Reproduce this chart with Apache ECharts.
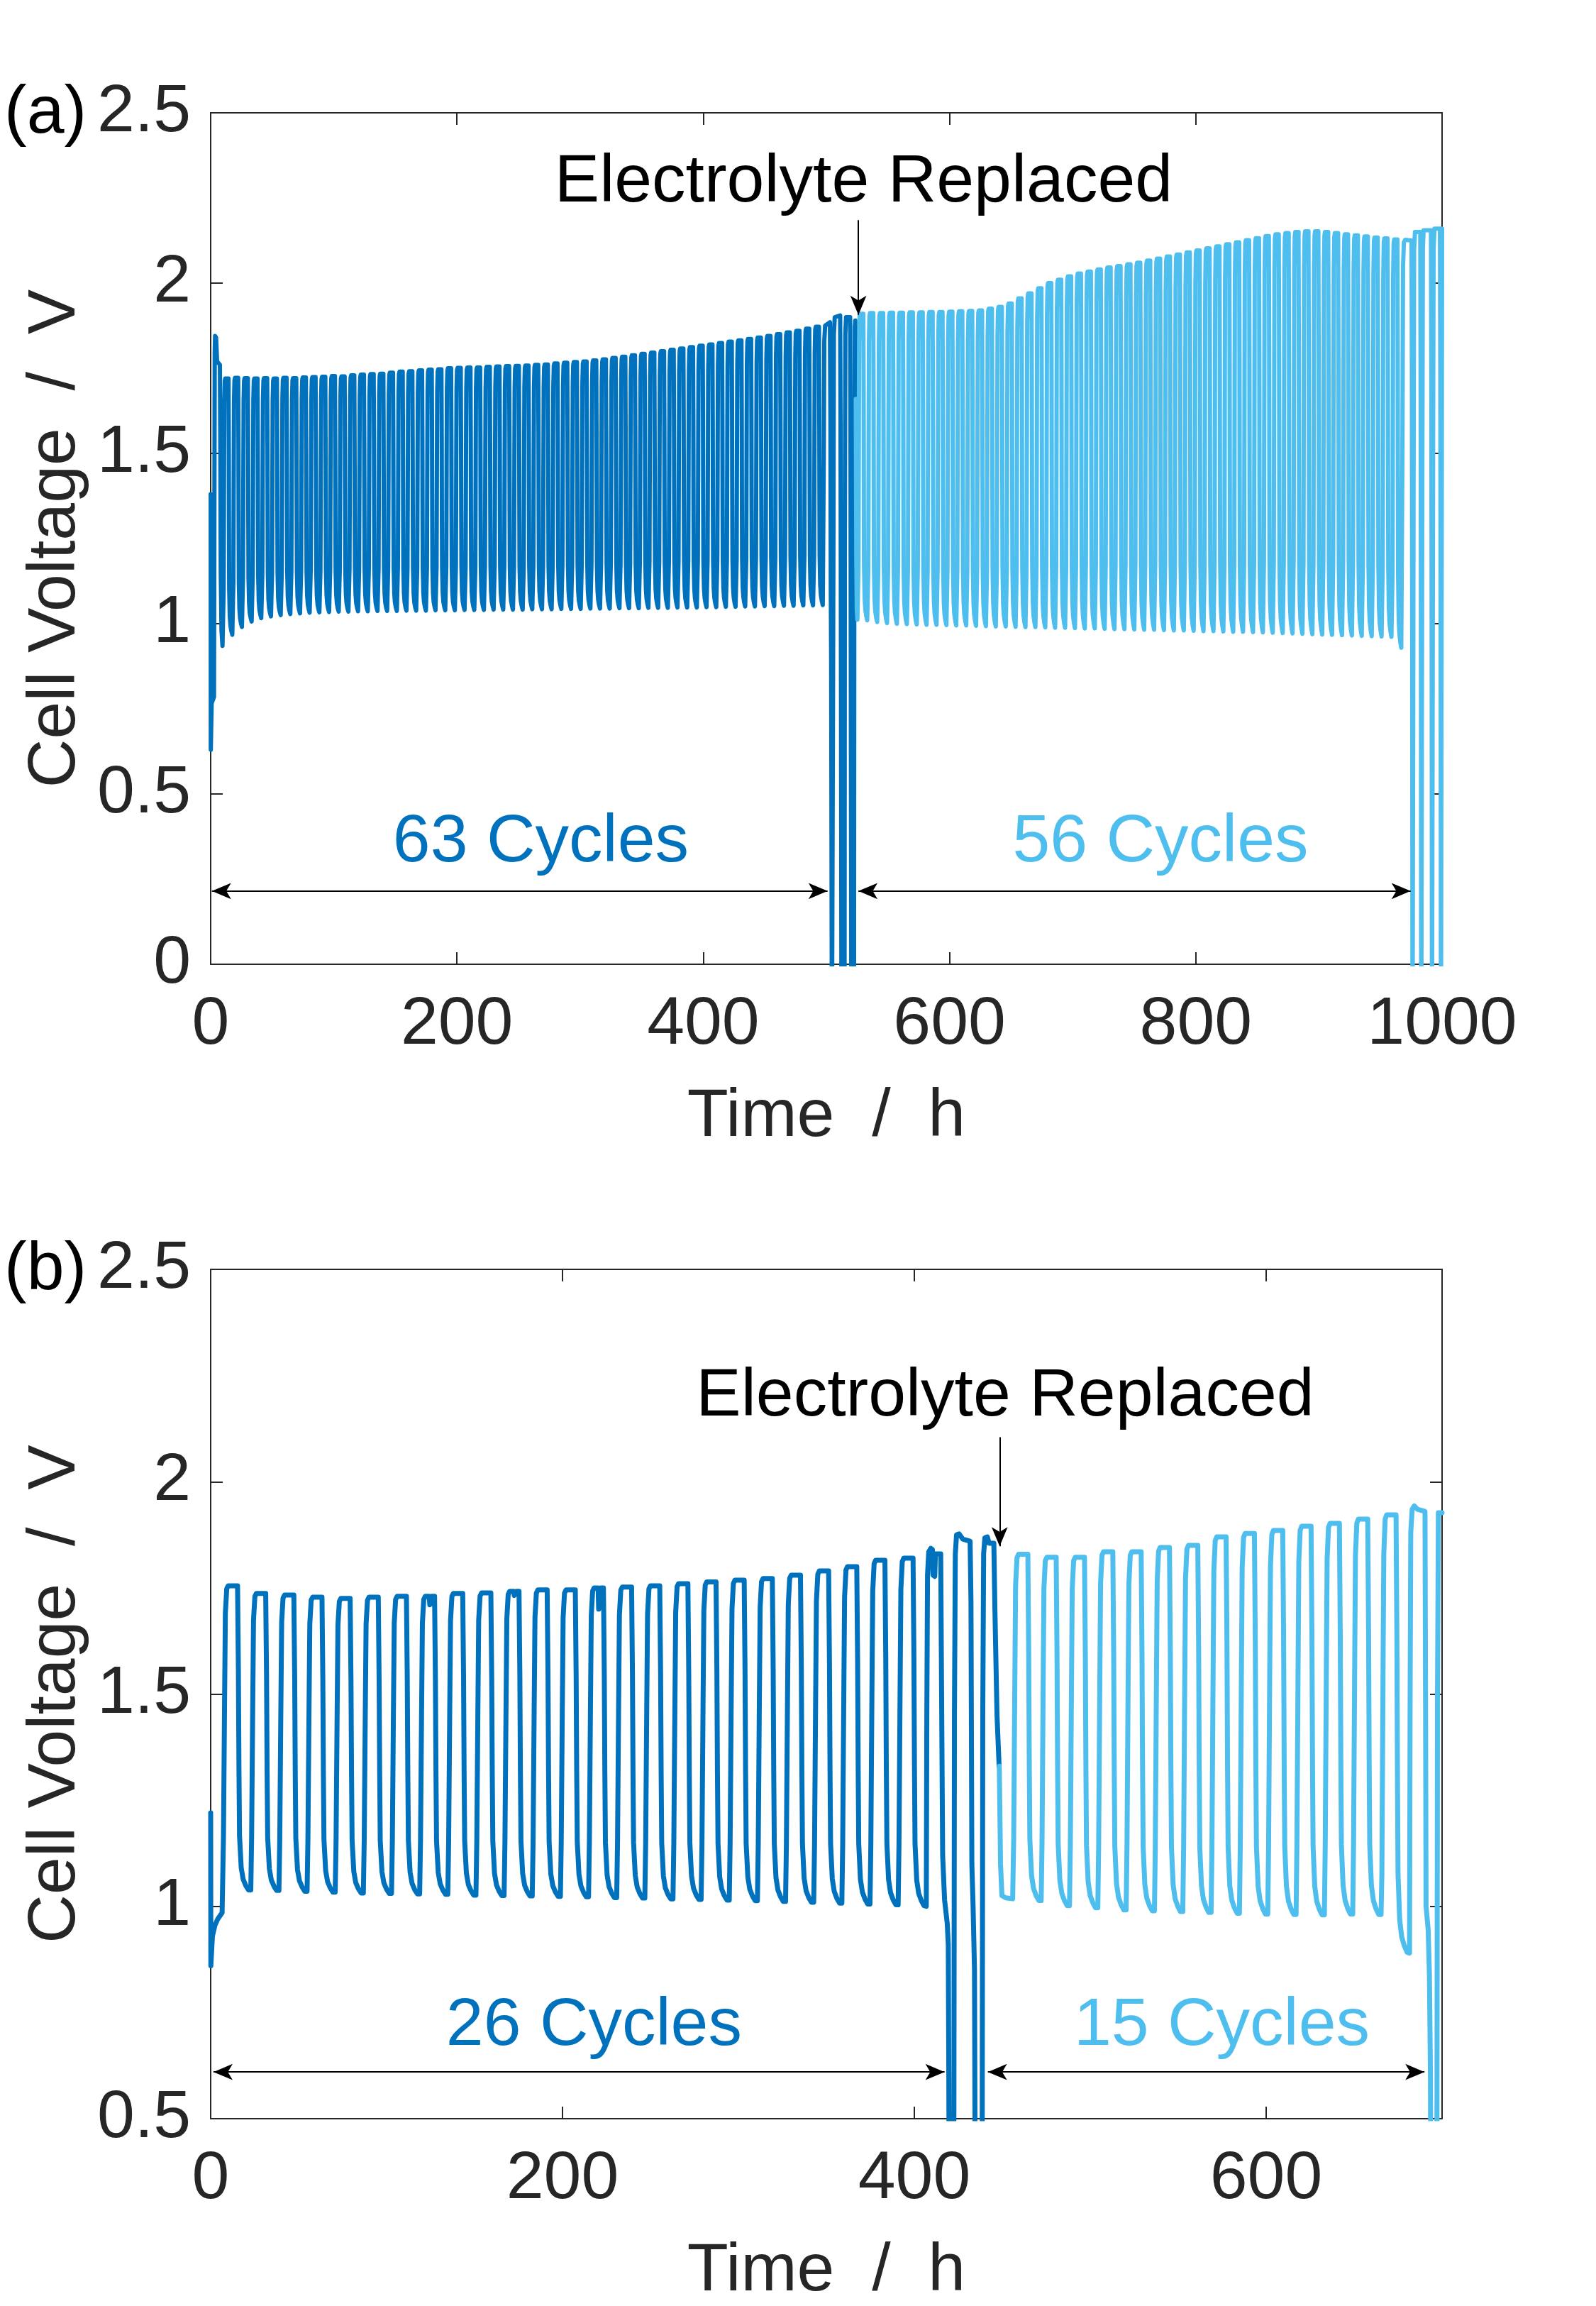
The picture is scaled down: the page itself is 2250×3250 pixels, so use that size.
<!DOCTYPE html>
<html>
<head>
<meta charset="utf-8">
<title>Cell voltage vs time</title>
<script src="https://cdn.jsdelivr.net/npm/echarts@6.0.0/dist/echarts.min.js"></script>
<style>
  html, body { margin: 0; padding: 0; background: #fff; }
  #chart { width: 2250px; height: 3250px; }
</style>
</head>
<body>
<div id="chart"></div>
<script>
// ---- values (time in h, voltage in V) ----

// axes
var xMaxA = 1000, xMaxB = 700;
var yMinA = 0, yMinB = 0.5, yMax = 2.5;

// (a) first electrolyte: start-up, regular cycles (rise time / plateau / bottom), replacement cycles
var startDarkA = [[0, 1.38], [0.1, 0.63], [0.8, 0.766], [2.7, 0.785], [3.0, 1.3], [3.3, 1.8], [3.6, 1.845],
    [4.4, 1.84], [5.2, 1.77], [5.8, 1.766], [7.5, 1.76], [7.8, 1.55], [8.2, 1.15], [8.8, 0.98], [9.6, 0.935], [10.3, 0.933]];
var riseDarkA = [10.3, 18.2, 26.0, 33.9, 41.7, 49.6, 57.5, 65.3, 73.2, 81.0,
    88.9, 96.8, 104.6, 112.5, 120.3, 128.2, 136.1, 143.9, 151.8, 159.6,
    167.5, 175.4, 183.2, 191.1, 198.9, 206.8, 214.7, 222.5, 230.4, 238.2,
    246.1, 254.0, 261.8, 269.7, 277.5, 285.4, 293.3, 301.1, 309.0, 316.8,
    324.7, 332.6, 340.4, 348.3, 356.1, 364.0, 371.9, 379.7, 387.6, 395.4,
    403.3, 411.2, 419.0, 426.9, 434.7, 442.6, 450.5, 458.3, 466.2, 474.0,
    481.9, 489.8];
var topDarkA = [1.720, 1.722, 1.721, 1.720, 1.721, 1.720, 1.722, 1.721, 1.723, 1.724,
    1.725, 1.727, 1.726, 1.729, 1.731, 1.733, 1.734, 1.737, 1.740, 1.741,
    1.744, 1.746, 1.747, 1.750, 1.751, 1.752, 1.752, 1.754, 1.755, 1.756,
    1.757, 1.758, 1.760, 1.761, 1.764, 1.766, 1.768, 1.770, 1.773, 1.776,
    1.780, 1.784, 1.788, 1.792, 1.796, 1.800, 1.804, 1.808, 1.812, 1.816,
    1.820, 1.824, 1.828, 1.832, 1.836, 1.840, 1.845, 1.850, 1.855, 1.860,
    1.866, 1.872];
var botDarkA = [0.966, 0.989, 1.005, 1.015, 1.020, 1.024, 1.027, 1.029, 1.031, 1.032,
    1.033, 1.034, 1.034, 1.035, 1.035, 1.036, 1.036, 1.036, 1.037, 1.037,
    1.037, 1.038, 1.038, 1.038, 1.039, 1.039, 1.039, 1.040, 1.040, 1.040,
    1.040, 1.041, 1.041, 1.041, 1.042, 1.042, 1.042, 1.043, 1.043, 1.043,
    1.044, 1.044, 1.044, 1.045, 1.045, 1.045, 1.046, 1.046, 1.046, 1.047,
    1.047, 1.048, 1.048, 1.049, 1.049, 1.050, 1.050, 1.051, 1.051, 1.052,
    1.052, 1.053];
var endDarkA = [[497.6, 1.053], [497.9, 1.5], [498.3, 1.83], [499.0, 1.875], [502.9, 1.885], [503.3, 1.6],
    [503.6, 1.1], [503.9, 0.9], [504.2, 0.3], [504.5, -0.3], [505.4, -0.3], [505.7, 1.2], [506.1, 1.85],
    [506.8, 1.9], [511.2, 1.905], [511.5, 1.6], [511.9, 0.8], [512.3, -0.3], [514.7, -0.3], [515.0, 1.2],
    [515.4, 1.85], [516.0, 1.9], [519.3, 1.9], [519.6, 1.5], [520.0, 0.5], [520.3, -0.3], [522.4, -0.3],
    [522.7, 1.3], [523.1, 1.87], [523.5, 1.89], [523.9, 1.66]];

// (a) fresh electrolyte
var startLightA = [[523.9, 1.66], [524.3, 1.2], [524.7, 1.04], [525.2, 1.012], [525.8, 1.008]];
var riseLightA = [525.8, 533.8, 541.9, 549.9, 557.9, 566.0, 574.0, 582.0, 590.1, 598.1,
    606.1, 614.2, 622.2, 630.2, 638.2, 646.3, 654.3, 662.3, 670.4, 678.4,
    686.4, 694.5, 702.5, 710.5, 718.6, 726.6, 734.6, 742.7, 750.7, 758.7,
    766.8, 774.8, 782.8, 790.9, 798.9, 806.9, 815.0, 823.0, 831.0, 839.0,
    847.1, 855.1, 863.1, 871.2, 879.2, 887.2, 895.3, 903.3, 911.3, 919.4,
    927.4, 935.4, 943.5, 951.5, 959.5];
var topLightA = [1.910, 1.912, 1.912, 1.913, 1.913, 1.914, 1.914, 1.915, 1.915, 1.916,
    1.917, 1.918, 1.920, 1.925, 1.930, 1.940, 1.955, 1.970, 1.985, 2.000,
    2.010, 2.020, 2.028, 2.034, 2.040, 2.046, 2.050, 2.055, 2.060, 2.066,
    2.072, 2.078, 2.084, 2.090, 2.096, 2.102, 2.108, 2.114, 2.120, 2.126,
    2.132, 2.138, 2.143, 2.147, 2.150, 2.152, 2.152, 2.150, 2.147, 2.143,
    2.140, 2.137, 2.134, 2.131, 2.128];
var botLightA = [1.008, 1.003, 1.000, 0.998, 0.997, 0.996, 0.995, 0.995, 0.994, 0.993,
    0.993, 0.992, 0.991, 0.990, 0.990, 0.989, 0.988, 0.988, 0.987, 0.986,
    0.986, 0.985, 0.984, 0.984, 0.983, 0.982, 0.982, 0.981, 0.980, 0.980,
    0.979, 0.978, 0.978, 0.977, 0.976, 0.976, 0.975, 0.974, 0.974, 0.973,
    0.972, 0.971, 0.970, 0.969, 0.968, 0.967, 0.966, 0.965, 0.964, 0.963,
    0.962, 0.961, 0.960, 0.959, 0.927];
var endLightA = [[967.5, 0.927], [967.8, 1.5], [968.3, 2.05], [969.0, 2.12], [970.0, 2.127], [975.2, 2.125],
    [975.5, 1.7], [975.8, 0.8], [976.0, -0.3], [976.6, -0.3], [976.9, 1.5], [977.3, 2.1], [978.0, 2.15],
    [982.3, 2.15], [982.6, 1.7], [982.9, 0.8], [983.1, -0.3], [983.7, -0.3], [984.0, 1.5], [984.4, 2.1],
    [985.0, 2.155], [991.0, 2.155], [991.3, 1.7], [991.6, 0.8], [991.8, -0.3], [992.4, -0.3], [992.7, 1.5],
    [993.1, 2.1], [993.8, 2.16], [998.3, 2.16], [998.6, 1.7], [998.9, 0.8], [999.1, -0.3], [999.6, -0.3],
    [999.8, 1.5], [1000, 2.16]];

// (b) first electrolyte
var startDarkB = [[0, 1.22], [0.1, 0.86], [1.0, 0.93], [2.4, 0.955], [4.0, 0.97], [6.5, 0.985]];
var riseDarkB = [6.8, 22.8, 38.8, 54.8, 70.8, 86.8, 102.8, 118.8, 134.8, 150.8,
    166.8, 182.8, 198.8, 214.8, 230.8, 246.8, 262.8, 278.8, 294.8, 310.8,
    326.8, 342.8, 358.8, 374.8, 390.8];
var topDarkB = [1.755, 1.737, 1.733, 1.728, 1.725, 1.728, 1.730, 1.730, 1.737, 1.738,
    1.742, 1.745, 1.745, 1.750, 1.752, 1.755, 1.760, 1.764, 1.768, 1.772,
    1.780, 1.790, 1.800, 1.815, 1.820];
var botDarkB = [1.037, 1.036, 1.034, 1.032, 1.030, 1.029, 1.028, 1.027, 1.025, 1.024,
    1.023, 1.022, 1.021, 1.019, 1.018, 1.016, 1.015, 1.013, 1.012, 1.010,
    1.008, 1.006, 1.004, 1.002, 1.000];
var notchDarkB = [0, 0, 0, 0, 0, 0, 0, 0.02, 0, 0,
    0.01, 0, 0, 0.05, 0, 0, 0, 0, 0, 0,
    0, 0, 0, 0, 0];
var endDarkB = [[406.8, 1.0], [407.1, 1.45], [407.5, 1.78], [408.2, 1.835], [409.4, 1.843], [410.3, 1.84],
    [410.6, 1.78], [411.6, 1.777], [412.0, 1.83], [415.0, 1.83], [415.5, 1.5], [416.1, 1.12], [417.2, 1.015],
    [418.7, 0.96], [419.3, 0.91], [419.6, 0.6], [419.9, 0.2], [422.4, 0.2], [422.8, 1.45], [423.3, 1.83],
    [424.0, 1.875], [425.5, 1.877], [427.5, 1.865], [431.7, 1.86], [432.2, 1.72], [432.7, 1.1], [433.4, 1.0],
    [434.2, 0.85], [434.7, 0.2], [438.5, 0.2], [438.9, 1.45], [439.4, 1.83], [440.1, 1.868], [441.5, 1.87],
    [442.5, 1.855], [445.2, 1.855], [445.8, 1.7], [447.0, 1.45], [448.2, 1.33]];

// (b) fresh electrolyte
var startLightB = [[448.3, 1.33], [449.0, 1.1], [449.8, 1.025], [452.0, 1.02], [455.9, 1.018]];
var riseLightB = [456.0, 472.1, 488.2, 504.3, 520.4, 536.5, 552.6, 568.7, 584.8, 600.9,
    617.0, 633.1, 649.2, 665.3];
var topLightB = [1.829, 1.822, 1.822, 1.835, 1.835, 1.845, 1.850, 1.870, 1.878, 1.885,
    1.895, 1.902, 1.912, 1.922];
var botLightB = [1.012, 1.000, 0.995, 0.990, 0.988, 0.986, 0.984, 0.982, 0.980, 0.979,
    0.978, 0.980, 0.979, 0.890];
var endLightB = [[681.5, 0.89], [681.8, 1.45], [682.2, 1.88], [683.0, 1.935], [684.2, 1.943], [686.0, 1.935],
    [690.3, 1.93], [690.6, 1.5], [690.9, 1.0], [692.1, 0.945], [692.8, 0.84], [693.4, 0.6], [693.6, 0.2],
    [697.0, 0.2], [697.4, 1.5], [697.9, 1.927], [700, 1.927]];

// shape of one cycle: [fraction of period, fraction from bottom to plateau]
var cycleShape = [[0, 0], [0.03, 0.18], [0.068, 0.61], [0.097, 0.91], [0.146, 0.99], [0.2, 1],
    [0.53, 1], [0.56, 0.72], [0.58, 0.40], [0.60, 0.18], [0.66, 0.075], [0.73, 0.037],
    [0.825, 0.016], [0.92, 0.002]];

// annotations
var noteTextA = ['Electrolyte Replaced', '63 Cycles', '56 Cycles'];
var notePosA = [[530.2, 2.294], [268.1, 0.356], [771.3, 0.356]];
var noteTextB = ['Electrolyte Replaced', '26 Cycles', '15 Cycles'];
var notePosB = [[451.6, 2.2], [217.9, 0.718], [574.8, 0.718]];
var arrowA = [526, 2.185, 1.907];        // x, from y, to y
var spanA = [[1, 501], [526, 974.5]];
var spanLevelA = 0.215;
var arrowB = [448.5, 2.105, 1.848];
var spanB = [[1.6, 417.2], [441.8, 690]];
var spanLevelB = 0.61;

// ---- drawing ----
var DARK = '#0072BD';
var LIGHT = '#4DBEEE';
var INK = '#262626';
var FONT = '"Liberation Sans", Arial, Helvetica, sans-serif';
var FS = 95;
var HEAD = [17, 27];

function addCycles(points, rises, tops, bottoms, notches) {
    for (var i = 0; i < rises.length; i++) {
        var t0 = rises[i];
        var p = i < rises.length - 1 ? rises[i + 1] - t0 : t0 - rises[i - 1];
        var lo = bottoms[i], hi = tops[i];
        var last = points[points.length - 1];
        points.push([t0, last ? last[1] : lo]);
        var shape = cycleShape.slice(1);
        var n = notches ? notches[i] : 0;
        if (n) {
            var d = n / (hi - lo);
            shape = shape.slice(0, 5).concat([[0.34, 1], [0.36, 1 - d], [0.40, 1 - 0.7 * d], [0.43, 1]], shape.slice(5));
        }
        shape.forEach(function (s) {
            points.push([t0 + s[0] * p, lo + s[1] * (hi - lo)]);
        });
    }
    return points;
}

function buildSeries(head, rises, tops, bottoms, notches, tail) {
    return addCycles(head.slice(), rises, tops, bottoms, notches).concat(tail);
}

var darkA = buildSeries(startDarkA, riseDarkA, topDarkA, botDarkA, null, endDarkA);
var lightA = buildSeries(startLightA, riseLightA, topLightA, botLightA, null, endLightA);
var darkB = buildSeries(startDarkB, riseDarkB, topDarkB, botDarkB, notchDarkB, endDarkB);
var lightB = buildSeries(startLightB, riseLightB, topLightB, botLightB, null, endLightB);

function plainNumber(v) {
    return String(v);
}

function xAxis(grid, max, top) {
    return {
        type: 'value', gridIndex: grid, position: top ? 'top' : 'bottom',
        min: 0, max: max, interval: 200,
        axisLine: { show: true, onZero: false, lineStyle: { color: INK, width: 2 } },
        axisTick: { show: true, inside: true, length: 17, lineStyle: { color: INK, width: 2 } },
        axisLabel: { show: !top, margin: 38, fontSize: FS, color: INK, fontFamily: FONT,
            showMaxLabel: max % 200 === 0, formatter: plainNumber },
        splitLine: { show: false },
        name: top ? '' : 'Time  /  h',
        nameLocation: 'middle', nameGap: 168,
        nameTextStyle: { fontSize: FS, color: INK, fontFamily: FONT }
    };
}

function yAxis(grid, min, right) {
    return {
        type: 'value', gridIndex: grid, position: right ? 'right' : 'left',
        min: min, max: yMax, interval: 0.5,
        axisLine: { show: true, onZero: false, lineStyle: { color: INK, width: 2 } },
        axisTick: { show: true, inside: true, length: 17, lineStyle: { color: INK, width: 2 } },
        axisLabel: { show: !right, margin: 28, fontSize: FS, color: INK, fontFamily: FONT, formatter: plainNumber },
        splitLine: { show: false },
        name: right ? '' : 'Cell Voltage  /  V',
        nameLocation: 'middle', nameGap: 167, nameRotate: 90,
        nameTextStyle: { fontSize: FS, color: INK, fontFamily: FONT }
    };
}

function end(coord, withHead) {
    return { coord: coord, symbol: withHead ? 'arrow' : 'none', symbolSize: HEAD };
}

function arrowLines(arrow, spans, level) {
    var data = [[end([arrow[0], arrow[1]], false), end([arrow[0], arrow[2]], true)]];
    spans.forEach(function (s) {
        data.push([end([s[0], level], true), end([s[1], level], true)]);
    });
    return {
        silent: true,
        animation: false,
        symbol: ['arrow', 'arrow'],
        label: { show: false },
        lineStyle: { color: '#000', width: 2, type: 'solid' },
        itemStyle: { color: '#000' },
        emphasis: { disabled: true },
        data: data
    };
}

function curve(name, data, axis, color, width, marks) {
    var s = {
        name: name, type: 'line', data: data,
        xAxisIndex: axis, yAxisIndex: axis,
        showSymbol: false, symbol: 'none', clip: true,
        lineStyle: { color: color, width: width, join: 'round', cap: 'round' },
        emphasis: { disabled: true },
        animation: false
    };
    if (marks) s.markLine = marks;
    return s;
}

var chart = echarts.init(document.getElementById('chart'));

var option = {
    backgroundColor: '#fff',
    animation: false,
    grid: [
        { left: 297, top: 159, width: 1736, height: 1200 },
        { left: 297, top: 1789, width: 1736, height: 1199 }
    ],
    xAxis: [xAxis(0, xMaxA, false), xAxis(0, xMaxA, true), xAxis(1, xMaxB, false), xAxis(1, xMaxB, true)],
    yAxis: [yAxis(0, yMinA, false), yAxis(0, yMinA, true), yAxis(1, yMinB, false), yAxis(1, yMinB, true)],
    series: [
        curve('a first', darkA, 0, DARK, 6, null),
        curve('a replaced', lightA, 0, LIGHT, 6, arrowLines(arrowA, spanA, spanLevelA)),
        curve('b first', darkB, 2, DARK, 7, null),
        curve('b replaced', lightB, 2, LIGHT, 7, arrowLines(arrowB, spanB, spanLevelB))
    ]
};

chart.setOption(option);

// texts placed in data coordinates
var colors = ['#000', DARK, LIGHT];
var graphics = [];
function addNotes(texts, pos, axis) {
    texts.forEach(function (t, i) {
        var p = chart.convertToPixel({ xAxisIndex: axis, yAxisIndex: axis }, pos[i]);
        graphics.push({
            type: 'text', x: p[0], y: p[1], silent: true,
            style: { text: t, fill: colors[i], font: FS + 'px ' + FONT, align: 'center', verticalAlign: 'middle' }
        });
    });
}
addNotes(noteTextA, notePosA, 0);
addNotes(noteTextB, notePosB, 2);

graphics.push({ type: 'text', x: 6, y: 161, silent: true,
    style: { text: '(a)', fill: '#000', font: FS + 'px ' + FONT, align: 'left', verticalAlign: 'middle' } });
graphics.push({ type: 'text', x: 6, y: 1791, silent: true,
    style: { text: '(b)', fill: '#000', font: FS + 'px ' + FONT, align: 'left', verticalAlign: 'middle' } });

chart.setOption({ graphic: graphics });
</script>
</body>
</html>
